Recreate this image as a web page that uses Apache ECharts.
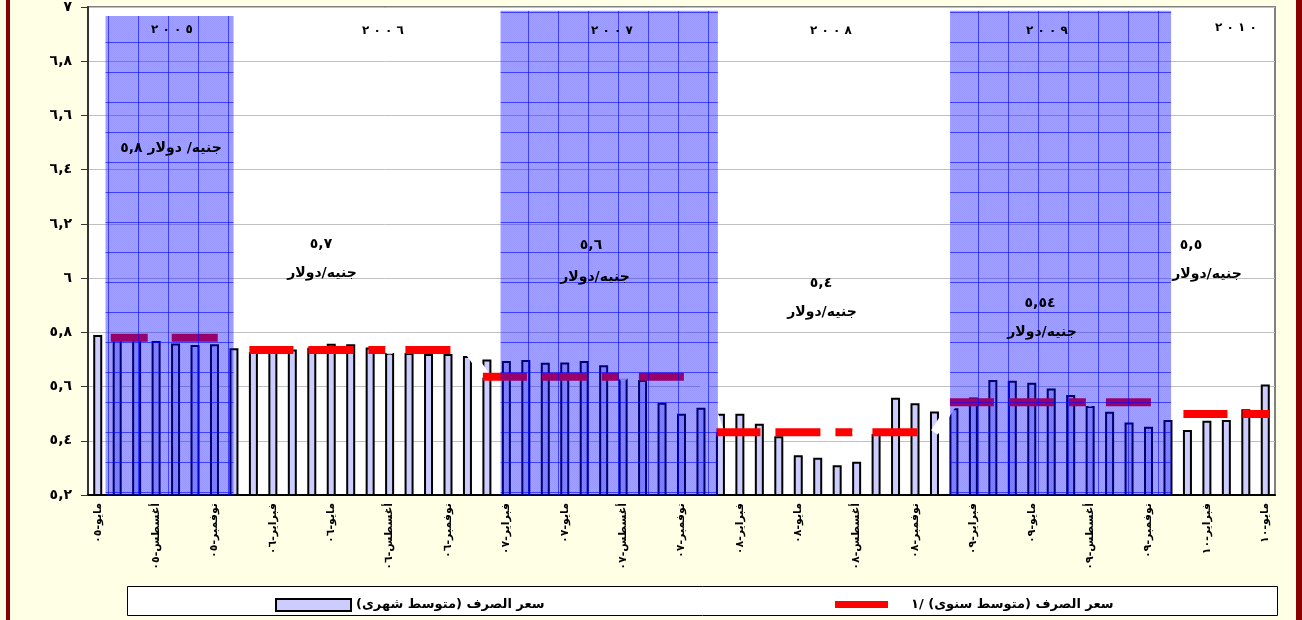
<!DOCTYPE html>
<html><head><meta charset="utf-8">
<script src="https://cdn.jsdelivr.net/npm/echarts@6/dist/echarts.min.js"></script>
<style>html,body{margin:0;padding:0;background:#fff}#chart{width:1302px;height:620px}</style>
</head><body>
<div id="chart" dir="rtl"></div>
<script>
// ---------------- DATA ----------------
const categories = [
  'مايو-٠٥','يونيو-٠٥','يوليو-٠٥','أغسطس-٠٥','سبتمبر-٠٥','أكتوبر-٠٥','نوفمبر-٠٥','ديسمبر-٠٥',
  'يناير-٠٦','فبراير-٠٦','مارس-٠٦','أبريل-٠٦','مايو-٠٦','يونيو-٠٦','يوليو-٠٦','أغسطس-٠٦','سبتمبر-٠٦','أكتوبر-٠٦','نوفمبر-٠٦','ديسمبر-٠٦',
  'يناير-٠٧','فبراير-٠٧','مارس-٠٧','أبريل-٠٧','مايو-٠٧','يونيو-٠٧','يوليو-٠٧','أغسطس-٠٧','سبتمبر-٠٧','أكتوبر-٠٧','نوفمبر-٠٧','ديسمبر-٠٧',
  'يناير-٠٨','فبراير-٠٨','مارس-٠٨','أبريل-٠٨','مايو-٠٨','يونيو-٠٨','يوليو-٠٨','أغسطس-٠٨','سبتمبر-٠٨','أكتوبر-٠٨','نوفمبر-٠٨','ديسمبر-٠٨',
  'يناير-٠٩','فبراير-٠٩','مارس-٠٩','أبريل-٠٩','مايو-٠٩','يونيو-٠٩','يوليو-٠٩','أغسطس-٠٩','سبتمبر-٠٩','أكتوبر-٠٩','نوفمبر-٠٩','ديسمبر-٠٩',
  'يناير-١٠','فبراير-١٠','مارس-١٠','أبريل-١٠','مايو-١٠'
];
const monthlyRate = [
  5.790, 5.775, 5.775, 5.768, 5.759, 5.753, 5.756, 5.741,
  5.727, 5.730, 5.737, 5.743, 5.758, 5.756, 5.744, 5.724, 5.724, 5.720, 5.720, 5.713,
  5.700, 5.694, 5.698, 5.688, 5.689, 5.694, 5.679, 5.630, 5.624, 5.540, 5.500, 5.522,
  5.500, 5.500, 5.463, 5.417, 5.347, 5.337, 5.310, 5.323, 5.425, 5.559, 5.538, 5.508,
  5.520, 5.560, 5.624, 5.621, 5.614, 5.593, 5.569, 5.528, 5.507, 5.467, 5.452, 5.477,
  5.440, 5.474, 5.477, 5.516, 5.608
];
const yearLabels = ['٢\u00A0٠\u00A0٠\u00A0٥','٢\u00A0٠\u00A0٠\u00A0٦','٢\u00A0٠\u00A0٠\u00A0٧','٢\u00A0٠\u00A0٠\u00A0٨','٢\u00A0٠\u00A0٠\u00A0٩','٢\u00A0٠\u00A0١\u00A0٠'];
const monthsPerYear = [8, 12, 12, 12, 12, 5];
const annualAvg = [5.780, 5.735, 5.636, 5.431, 5.542, 5.499];
const annualNotes = [
  ['جنيه/ دولار ٥,٨'],
  ['٥,٧', 'جنيه/دولار'],
  ['٥,٦', 'جنيه/دولار'],
  ['٥,٤', 'جنيه/دولار'],
  ['٥,٥٤', 'جنيه/دولار'],
  ['٥,٥', 'جنيه/دولار']
];
const yTickLabels = ['٥,٢','٥,٤','٥,٦','٥,٨','٦','٦,٢','٦,٤','٦,٦','٦,٨','٧'];
const barName = 'سعر الصرف (متوسط شهرى)';
const lineName = 'سعر الصرف (متوسط سنوى) /١';

// ---------------- LAYOUT / STYLE ----------------
const FONT = 'DejaVu Sans';
// shaded year bands on a 0..61 month scale [from, to, top value]
const shadeBands = [[0.90, 7.48, 6.967], [21.2, 32.37, 6.986], [44.3, 55.66, 6.986]];
const yearLabelPos = [[172, 30], [383, 31], [612, 31], [831, 31], [1047, 31], [1236, 28]];
const notePos = [
  [[171, 148]],
  [[321, 244], [322, 273]],
  [[591, 245], [595, 277]],
  [[821, 283], [822, 312]],
  [[1040, 303], [1042, 332]],
  [[1191, 245], [1207, 274]]
];

// pattern for shading (translucent blue with grid lines)
const pc = document.createElement('canvas');
pc.width = 30; pc.height = 30;
const g = pc.getContext('2d');
g.fillStyle = 'rgba(0,0,255,0.36)';
g.fillRect(0, 0, 30, 30);
g.fillStyle = 'rgba(0,0,255,0.08)';
for (let x = 0; x < 30; x++) for (let y = 0; y < 30; y++) if ((x + y) % 2 === 0) g.fillRect(x, y, 1, 1);
g.fillStyle = 'rgba(0,0,255,0.6)';
g.fillRect(18, 0, 1, 30);
g.fillRect(0, 12, 30, 1);
const shadePattern = { image: pc, repeat: 'repeat' };

// build series from data
const yearStart = [];
let acc = 0;
monthsPerYear.forEach(n => { yearStart.push(acc); acc += n; });

const yearSeries = annualAvg.map((v, y) => {
  const d = categories.map((c, i) => (i >= yearStart[y] && i < yearStart[y] + monthsPerYear[y]) ? v : null);
  const first = y === 0;
  return {
    name: lineName, type: 'line', data: d, symbol: 'none', showSymbol: false,
    connectNulls: false, silent: true, z: 4,
    itemStyle: { color: '#ff0000' },
    lineStyle: {
      color: '#ff0000', width: 8, cap: 'square',
      type: first ? [29, 32, 38, 48] : [36, 23, 37, 23, 9, 28, 37, 23],
      dashOffset: first ? 130 : 0
    }
  };
});

const transData = categories.map(() => null);
for (let y = 0; y < annualAvg.length - 1; y++) {
  const end = yearStart[y] + monthsPerYear[y] - 1;
  transData[end] = annualAvg[y];
  transData[end + 1] = annualAvg[y + 1];
}
const augDots = [];
for (let y = 1; y <= 4; y++) augDots.push([categories[yearStart[y] + 7], annualAvg[y]]);

const graphics = [
  { type: 'rect', shape: { x: 6, y: 0, width: 4, height: 620 }, style: { fill: '#8b0000' }, z: 1 },
  { type: 'rect', shape: { x: 1296, y: 0, width: 6, height: 620 }, style: { fill: '#8b0000' }, z: 1 },
  { type: 'rect', shape: { x: 127.5, y: 586.5, width: 1150, height: 29 }, style: { fill: '#ffffff', stroke: '#000', lineWidth: 1 }, z: 1 }
];
yearLabels.forEach((t, i) => {
  graphics.push({ type: 'text', x: yearLabelPos[i][0], y: yearLabelPos[i][1], z: 50,
    style: { text: t, fill: '#000', font: 'bold 12px ' + FONT, textAlign: 'center', textVerticalAlign: 'middle' } });
});
annualNotes.forEach((lines, i) => {
  lines.forEach((t, j) => {
    graphics.push({ type: 'text', x: notePos[i][j][0], y: notePos[i][j][1], z: 50,
      style: { text: t, fill: '#000', font: 'bold 14px ' + FONT, textAlign: 'center', textVerticalAlign: 'middle' } });
  });
});

const chart = echarts.init(document.getElementById('chart'), null, { renderer: 'canvas' });
chart.setOption({
  animation: false,
  backgroundColor: '#ffffe6',
  grid: { left: 88, right: 27, top: 7, bottom: 125, show: true, backgroundColor: '#ffffff', borderColor: '#808080', borderWidth: 2 },
  legend: [
    { data: [{ name: barName, icon: 'rect' }], left: 270, top: 593, itemWidth: 75, itemHeight: 12, selectedMode: false,
      textStyle: { fontFamily: FONT, fontWeight: 'bold', fontSize: 13, color: '#000' } },
    { data: [{ name: lineName, icon: 'rect' }], left: 830, top: 593, itemWidth: 53, itemHeight: 7, selectedMode: false,
      itemStyle: { color: '#ff0000', borderWidth: 0 },
      textStyle: { fontFamily: FONT, fontWeight: 'bold', fontSize: 13, color: '#000', padding: [0, 0, 0, 18] } }
  ],
  xAxis: [
    { type: 'category', data: categories, boundaryGap: true,
      axisLine: { lineStyle: { color: '#000', width: 2 } },
      axisTick: { interval: 2, length: 6, lineStyle: { color: '#000' } },
      axisLabel: { interval: 2, rotate: 90, margin: 8, fontFamily: FONT, fontWeight: 'bold', fontSize: 11, color: '#000' } },
    { type: 'value', min: 0, max: 61, show: false }
  ],
  yAxis: { type: 'value', min: 5.2, max: 7, interval: 0.2,
    axisLine: { show: true, lineStyle: { color: '#333', width: 2 } },
    axisTick: { show: true, length: 7, lineStyle: { color: '#333' } },
    splitLine: { lineStyle: { color: '#c0c0c0', width: 1 } },
    axisLabel: { margin: 16, fontFamily: FONT, fontWeight: 'bold', fontSize: 14, color: '#000',
      formatter: v => yTickLabels[Math.round((v - 5.2) / 0.2)] } },
  graphic: graphics,
  series: [
    { name: barName, type: 'bar', data: monthlyRate, barWidth: 9, silent: true, z: 2,
      itemStyle: { color: '#ccccff', borderColor: '#000', borderWidth: 2 } },
    { name: 'trans', type: 'line', data: transData, symbol: 'none', connectNulls: false, silent: true, z: 3,
      lineStyle: { color: '#ffffff', width: 8, cap: 'butt' } },
    ...yearSeries,
    { name: 'dots', type: 'scatter', data: augDots, symbol: 'circle', symbolSize: 9, silent: true, z: 5,
      itemStyle: { color: '#ffffff' } },
    { name: 'shade', type: 'custom', xAxisIndex: 1, yAxisIndex: 0, data: shadeBands, silent: true, z: 6, clip: false,
      encode: { x: [0, 1], y: 2 },
      renderItem: (params, api) => {
        const p0 = api.coord([api.value(0), api.value(2)]);
        const p1 = api.coord([api.value(1), 5.2]);
        return { type: 'rect', shape: { x: p0[0], y: p0[1], width: p1[0] - p0[0], height: p1[1] - p0[1] },
          style: { fill: shadePattern } };
      } }
  ]
});
</script></body></html>
